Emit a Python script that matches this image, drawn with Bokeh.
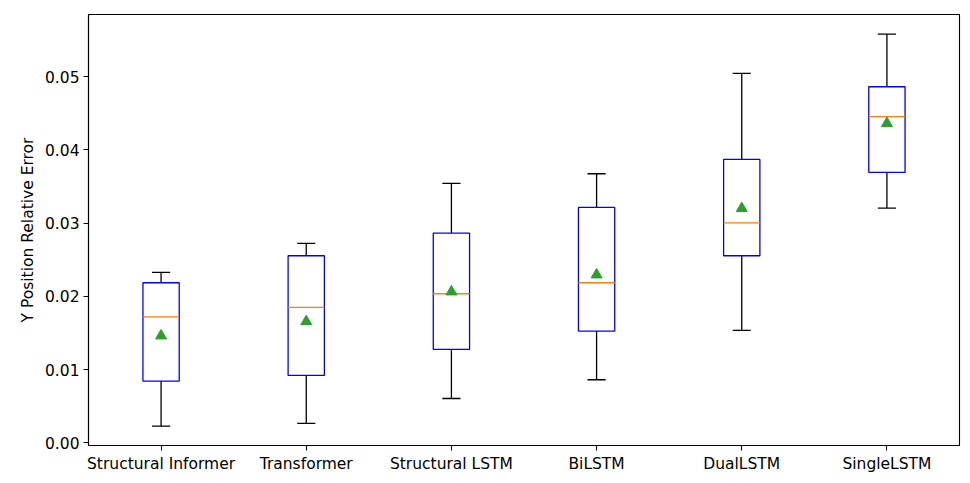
from bokeh.plotting import figure
from bokeh.models import FixedTicker, NumeralTickFormatter, Range1d
from bokeh.embed import file_html
from bokeh.resources import INLINE

categories = ["Structural Informer", "Transformer", "Structural LSTM", "BiLSTM", "DualLSTM", "SingleLSTM"]
whisker_low = [0.00228, 0.00264, 0.00605, 0.00861, 0.01535, 0.03206]
q1 = [0.00843, 0.00920, 0.01275, 0.01526, 0.02555, 0.03693]
median = [0.01721, 0.01849, 0.02036, 0.02186, 0.03005, 0.04454]
q3 = [0.02186, 0.02555, 0.02865, 0.03215, 0.03871, 0.04863]
whisker_high = [0.02327, 0.02723, 0.03543, 0.03675, 0.05046, 0.05583]
mean = [0.01462, 0.01657, 0.02063, 0.02295, 0.03201, 0.04362]
y_ticks = [0.0, 0.01, 0.02, 0.03, 0.04, 0.05]

FONT = "DejaVu Sans"
pos = [i + 1 for i in range(len(categories))]
box_w = 0.25
cap_w = 0.125

p = figure(width=970, height=483, output_backend="svg", toolbar_location=None,
           x_range=Range1d(0.5, 6.5), y_range=Range1d(-0.00037, 0.0585))
p.min_border_left = 88
p.min_border_right = 11
p.min_border_top = 14
p.min_border_bottom = 38
p.grid.visible = False
p.outline_line_color = "black"
p.outline_line_width = 1.1
p.background_fill_color = "white"
p.border_fill_color = "white"

# whiskers
p.segment(x0=pos, y0=q3, x1=pos, y1=whisker_high, line_color="black", line_width=1.3)
p.segment(x0=pos, y0=q1, x1=pos, y1=whisker_low, line_color="black", line_width=1.3)
# caps
p.segment(x0=[x - cap_w / 2 for x in pos], y0=whisker_high, x1=[x + cap_w / 2 for x in pos], y1=whisker_high,
          line_color="black", line_width=1.3)
p.segment(x0=[x - cap_w / 2 for x in pos], y0=whisker_low, x1=[x + cap_w / 2 for x in pos], y1=whisker_low,
          line_color="black", line_width=1.3)
# boxes
p.vbar(x=pos, width=box_w, bottom=q1, top=q3, fill_color=None, line_color="#0000ff", line_width=1.3)
# medians
p.segment(x0=[x - box_w / 2 for x in pos], y0=median, x1=[x + box_w / 2 for x in pos], y1=median,
          line_color="#ff7f0e", line_width=1.3)
# means
p.scatter(x=pos, y=mean, marker="triangle", size=11, fill_color="#2ca02c", line_color="#2ca02c")

p.xaxis.ticker = FixedTicker(ticks=pos)
p.xaxis.major_label_overrides = {x: c for x, c in zip(pos, categories)}
p.yaxis.ticker = FixedTicker(ticks=y_ticks)
p.yaxis.formatter = NumeralTickFormatter(format="0.00")
p.yaxis.axis_label = "Y Position Relative Error"

for ax in (p.xaxis[0], p.yaxis[0]):
    ax.axis_line_color = "black"
    ax.axis_line_width = 1.1
    ax.major_tick_line_color = "black"
    ax.major_tick_line_width = 1.1
    ax.major_tick_out = 5
    ax.major_tick_in = 0
    ax.minor_tick_line_color = None
    ax.major_label_text_font = FONT
    ax.major_label_text_font_size = "15.5px"
    ax.major_label_text_color = "black"
    ax.major_label_standoff = 4
    ax.axis_label_text_font = FONT
    ax.axis_label_text_font_size = "15.5px"
    ax.axis_label_text_font_style = "normal"
    ax.axis_label_text_color = "black"
p.yaxis.axis_label_standoff = 5

open("out.html", "w").write(file_html(p, INLINE))
